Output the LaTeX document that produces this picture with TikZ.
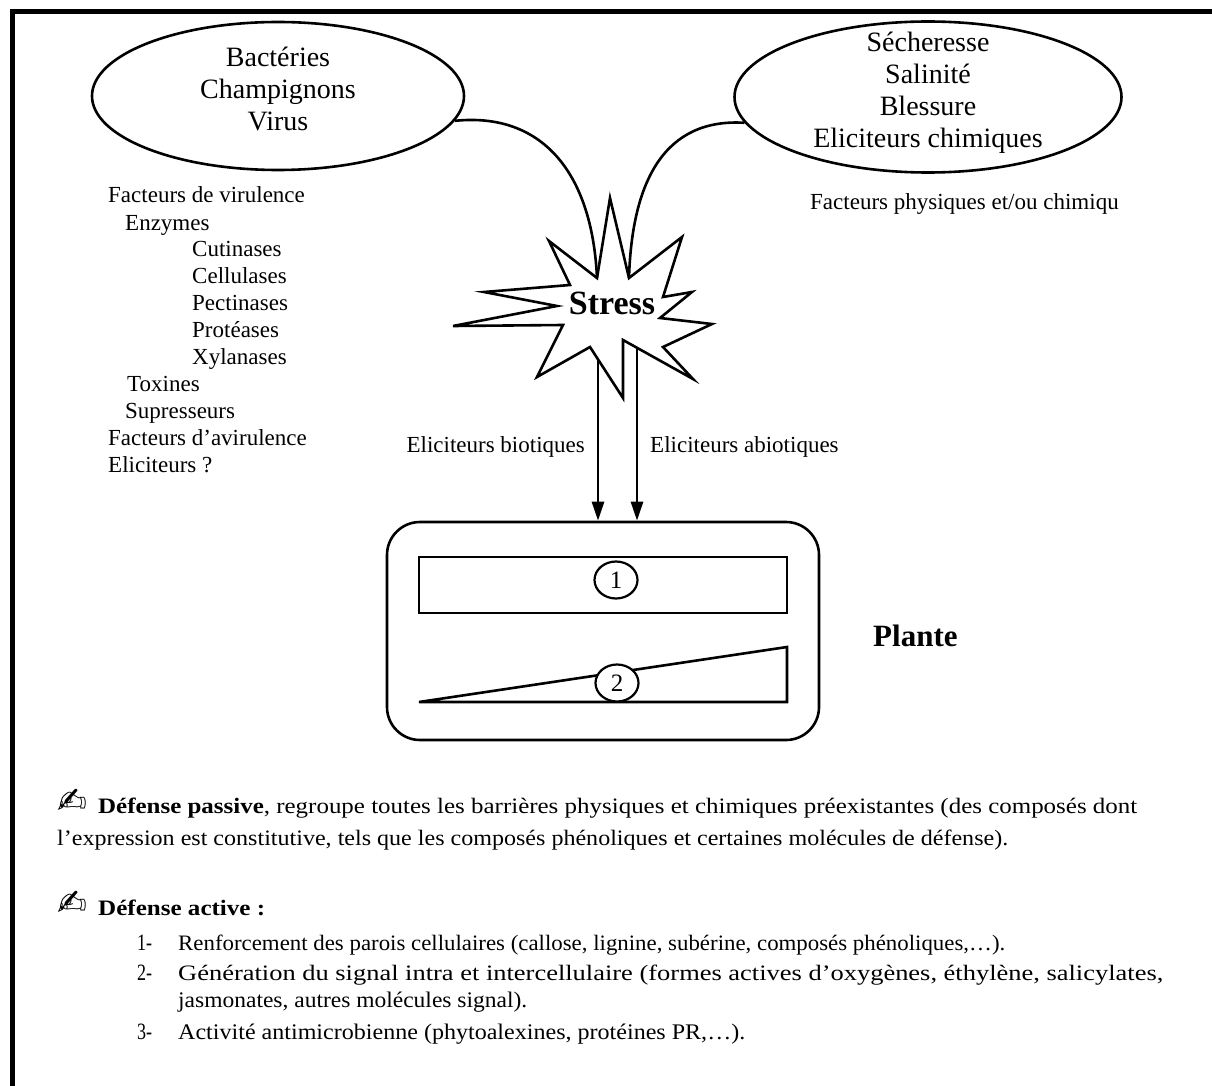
\documentclass[tikz,border=0pt]{standalone}
\usepackage{fontspec}
\setmainfont{Liberation Serif}
\newfontfamily\symfont{DejaVu Sans}
\usetikzlibrary{shapes.geometric,arrows.meta}
\newcommand\fitline[2]{\resizebox{#1pt}{15.5pt}{#2}}
\begin{document}
\begin{tikzpicture}[x=1pt,y=-1pt,
  lw/.style={line width=2.6pt},
  oval/.style={draw,ellipse,line width=2.6pt,inner sep=0pt},
  big/.style={inner sep=0pt,anchor=base,font=\fontsize{28}{32}\selectfont},
  lbl/.style={inner sep=0pt,anchor=base west,font=\fontsize{23}{27}\selectfont},
  arr/.style={line width=2.6pt,-{Triangle[length=19pt,width=12pt]}},
  boxr/.style={draw,line width=2.6pt,inner sep=0pt},
  num/.style={draw,ellipse,line width=2.2pt,fill=white,minimum width=43pt,minimum height=37pt,inner sep=0pt,font=\fontsize{25}{25}\selectfont}
]
\useasboundingbox (0,0) rectangle (1212,1086);
% frame
\draw[line width=5pt] (1212,12) -- (12,12) -- (12,1086);

% ellipses
\node[oval,minimum width=372pt,minimum height=148pt] (lell) at (278,96) {};
\node[big] (b1) at (278,67) {Bactéries};
\node[big] (b2) at (278,99) {Champignons};
\node[big] (b3) at (278,131) {Virus};

\node[oval,minimum width=387pt,minimum height=151pt] (rell) at (928,97) {};
\node[big] (r1) at (928,52) {Sécheresse};
\node[big] (r2) at (928,84) {Salinité};
\node[big] (r3) at (928,116) {Blessure};
\node[big] (r4) at (928,148) {Eliciteurs chimiques};

\node[lbl] (fpc) at (810,210) {Facteurs physiques et/ou chimiqu};

% left list
\node[lbl] (l1) at (108,203) {Facteurs de virulence};
\node[lbl] (l2) at (125,230) {Enzymes};
\node[lbl] (l3) at (192,256) {Cutinases};
\node[lbl] (l4) at (192,283) {Cellulases};
\node[lbl] (l5) at (192,310) {Pectinases};
\node[lbl] (l6) at (192,337) {Protéases};
\node[lbl] (l7) at (192,364) {Xylanases};
\node[lbl] (l8) at (127,391) {Toxines};
\node[lbl] (l9) at (125,418) {Supresseurs};
\node[lbl] (l10) at (108,445) {Facteurs d’avirulence};
\node[lbl] (l11) at (108,472) {Eliciteurs ?};

% star
\coordinate (sTL) at (597,278);
\coordinate (sTR) at (629,278);
\draw[lw,line join=miter,fill=white] (610,198) -- (sTR) -- (682,237) -- (663,297) -- (692,292) -- (660,318)
  -- (712,324) -- (663,347) -- (693,379) -- (623,340) -- (623,398) -- (590,347) -- (537,377)
  -- (563,325) -- (453,326) -- (557,306) -- (484,292) -- (570,285) -- (549,241) -- (sTL) -- cycle;
\node[inner sep=0pt,anchor=base,font=\bfseries\fontsize{34}{34}\selectfont] (stress) at (612,314) {Stress};

% curves from ellipses to star
\draw[lw] (lell.-8) .. controls (540,112) and (592,170) .. (sTL);
\draw[lw] (rell.188) .. controls (665,118) and (632,180) .. (sTR);

% plant box
\node[boxr,rounded corners=33pt,minimum width=432pt,minimum height=218pt] (plant) at (603,631) {};
\node[boxr,minimum width=368pt,minimum height=56pt] (r1box) at (603,585) {};
\coordinate (t1) at (419,702);
\coordinate (t2) at (787,702);
\coordinate (t3) at (787,647);
\draw[lw,line join=miter] (t1) -- (t2) -- (t3) -- cycle;
\node[num] (n1) at (616,580) {1};
\node[num] (n2) at (617,683) {2};
\node[inner sep=0pt,anchor=base west,font=\bfseries\fontsize{31}{31}\selectfont] (plante) at (873,646) {Plante};

% arrows
\coordinate (a1) at (598,359);
\coordinate (a2) at (637,348);
\draw[arr] (a1) -- (a1 |- plant.north);
\draw[arr] (a2) -- (a2 |- plant.north);
\node[lbl,anchor=base east] (eb) at (585,452) {Eliciteurs biotiques};
\node[lbl] (ea) at (650,452) {Eliciteurs abiotiques};

% bottom text
\node[lbl] (s1) at (57,813) {\resizebox{30pt}{!}{\symfont ✍}};
\node[lbl] (p1) at (98,813) {\fitline{1039}{\textbf{Défense passive}, regroupe toutes les barrières physiques et chimiques préexistantes (des composés dont}};
\node[lbl] (p2) at (57,845) {\fitline{951}{l’expression est constitutive, tels que les composés phénoliques et certaines molécules de défense).}};
\node[lbl] (s2) at (57,915) {\resizebox{30pt}{!}{\symfont ✍}};
\node[lbl] (da) at (98,915) {\fitline{167}{\textbf{Défense active :}}};
\node[lbl] (i1n) at (137,950) {\fitline{15}{1-}};
\node[lbl] (i1) at (178,950) {\fitline{827}{Renforcement des parois cellulaires (callose, lignine, subérine, composés phénoliques,…).}};
\node[lbl] (i2n) at (137,980) {\fitline{15}{2-}};
\node[lbl] (i2) at (178,980) {\fitline{985}{Génération du signal intra et intercellulaire (formes actives d’oxygènes, éthylène, salicylates,}};
\node[lbl] (i2b) at (178,1007) {\fitline{349}{jasmonates, autres molécules signal).}};
\node[lbl] (i3n) at (137,1039) {\fitline{15}{3-}};
\node[lbl] (i3) at (178,1039) {\fitline{567}{Activité antimicrobienne (phytoalexines, protéines PR,…).}};
\end{tikzpicture}
\end{document}
